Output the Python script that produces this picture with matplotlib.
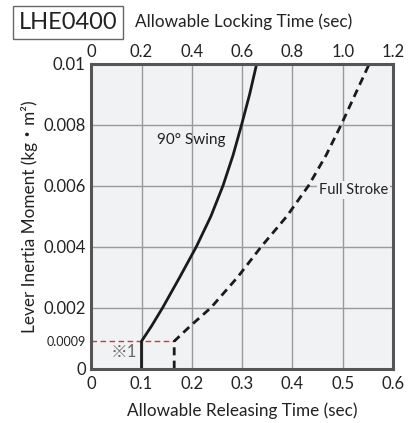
import matplotlib
matplotlib.use('Agg')
import matplotlib.pyplot as plt

plt.rcParams['font.family'] = ['Lato', 'Noto Sans CJK JP', 'DejaVu Sans']

# Data
swing_y = [0, 0.0009, 0.0014, 0.002, 0.003, 0.004, 0.005, 0.006, 0.007, 0.008, 0.009, 0.01]
swing_x = [0.1, 0.1, 0.120, 0.142, 0.176, 0.209, 0.238, 0.262, 0.282, 0.299, 0.315, 0.329]
stroke_y = [0, 0.0009, 0.0014, 0.002, 0.003, 0.004, 0.005, 0.006, 0.007, 0.008, 0.009, 0.01]
stroke_x = [0.165, 0.165, 0.197, 0.238, 0.291, 0.338, 0.389, 0.432, 0.467, 0.497, 0.525, 0.553]
limit_y = 0.0009

x_ticks = [0, 0.1, 0.2, 0.3, 0.4, 0.5, 0.6]
x_labels = ['0', '0.1', '0.2', '0.3', '0.4', '0.5', '0.6']
top_labels = ['0', '0.2', '0.4', '0.6', '0.8', '1.0', '1.2']
y_ticks = [0, 0.0009, 0.002, 0.004, 0.006, 0.008, 0.01]
y_labels = ['0', '0.0009', '0.002', '0.004', '0.006', '0.008', '0.01']
grid_y = [0.002, 0.004, 0.006, 0.008]

bg = '#f1f2f4'
spine_c = '#555555'
grid_c = '#9a9a9a'
txt_c = '#222222'

fig = plt.figure(figsize=(4.15, 4.23), dpi=100)
ax = fig.add_axes([0.2198, 0.1284, 0.947 - 0.2198, 0.8494 - 0.1284])
ax.set_facecolor(bg)
ax.set_xlim(0, 0.6)
ax.set_ylim(0, 0.01)

# grid
for gx in x_ticks[1:-1]:
    ax.axvline(gx, color=grid_c, lw=1.0, zorder=1)
for gy in grid_y:
    ax.axhline(gy, color=grid_c, lw=1.0, zorder=1)

# red limit line
ax.plot([0, stroke_x[1]], [limit_y, limit_y], color='#e03030', lw=1.0,
        dashes=(4, 2.5), zorder=2)

ax.plot(swing_x, swing_y, color='#1a1a1a', lw=2.0, zorder=3)
ax.plot(stroke_x, stroke_y, color='#1a1a1a', lw=2.0, dashes=(2.9, 1.9),
        zorder=3)

ax.text(0.13, 0.0075, '90° Swing', fontsize=11, color=txt_c,
        va='center', ha='left', zorder=4)
ax.text(0.452, 0.00585, 'Full Stroke', fontsize=10.5, color=txt_c,
        va='center', ha='left', zorder=4,
        bbox=dict(facecolor=bg, edgecolor='none', pad=1.5))
ax.text(0.065, 0.00056, '※1', fontsize=12, color='#666666',
        va='center', ha='center', zorder=4)

for s in ax.spines.values():
    s.set_color(spine_c)
    s.set_linewidth(2.2)
    s.set_zorder(5)

ax.set_xticks(x_ticks)
ax.set_xticklabels(x_labels, fontsize=12, color=txt_c)
ax.set_yticks(y_ticks)
ax.set_yticklabels(y_labels, fontsize=12, color=txt_c)
ax.get_yticklabels()[1].set_fontsize(9)
ax.tick_params(length=0, pad=4)
ax.tick_params(axis='x', pad=5)

ax.set_xlabel('Allowable Releasing Time (sec)', fontsize=12.3,
              color=txt_c, labelpad=8)
ax.set_ylabel('Lever Inertia Moment (kg・m²)', fontsize=12.3,
              color=txt_c, labelpad=4)

top = ax.twiny()
top.set_xlim(0, 1.2)
top.set_xticks([float(t) for t in top_labels])
top.set_xticklabels(top_labels, fontsize=12, color=txt_c)
top.tick_params(length=0, pad=3)
for s in top.spines.values():
    s.set_visible(False)

fig.text(68 / 415, 1 - 22.5 / 423, 'LHE0400', fontsize=17, color=txt_c,
         ha='center', va='center',
         bbox=dict(facecolor='white', edgecolor='#666666', lw=1.0,
                   boxstyle='square,pad=0.25'))
fig.text(135 / 415, 1 - 22 / 423, 'Allowable Locking Time (sec)', fontsize=12.3,
         color=txt_c, ha='left', va='center')

fig.savefig('out.png', dpi=100, facecolor='white')
